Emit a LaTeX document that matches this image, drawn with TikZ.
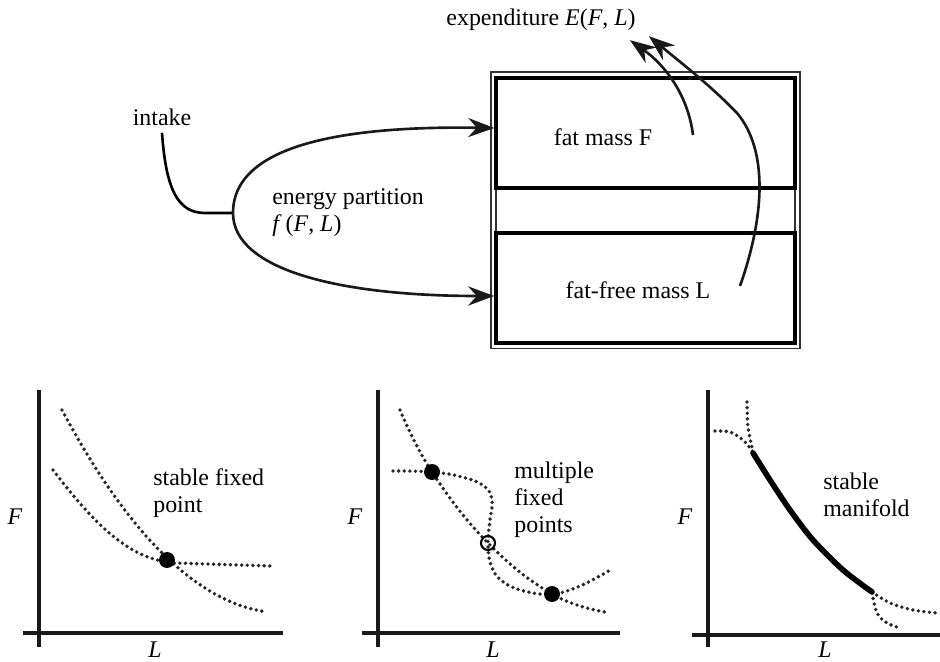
\documentclass[tikz,border=0pt]{standalone}
\usepackage{fontspec}
\setmainfont{Liberation Serif}
\usetikzlibrary{arrows.meta,positioning,calc}
\tikzset{
  massbox/.style={rectangle, draw=black, line width=2pt, minimum width=5.98cm, minimum height=2.2cm, inner sep=0pt},
  frame/.style={rectangle, draw=black!80, double=white, double distance=0.06cm, line width=1pt, minimum width=6.08cm, minimum height=5.44cm},
  flow/.style={-{Stealth[length=0.52cm,width=0.38cm,inset=0.17cm]}, line width=1.5pt, draw=black!90},
  txt/.style={inner sep=0pt, align=left},
  axis/.style={line width=2pt, draw=black!90},
  nullcl/.style={line width=2.2pt, dash pattern=on 0pt off 3.2pt, line cap=round, draw=black!85},
  manifold/.style={line width=3.2pt, line cap=round},
  fixpt/.style={circle, fill=black, inner sep=0pt, minimum size=0.32cm},
  saddle/.style={circle, draw=black, line width=1.2pt, inner sep=0pt, minimum size=0.28cm}
}
\begin{document}
\begin{tikzpicture}[x=0.02cm, y=-0.02cm, font=\fontsize{13.6}{15.5}\selectfont]
\useasboundingbox (0,0) rectangle (940,662);
% top: intake split into the two compartments
\node[frame] (store) at (645.4,210.2) {};
\node[massbox] (fat) at (645.5,133) {};
\node[massbox] (lean) at (645.5,288) {};
\node[txt] (fatlbl) at (603,137) {fat mass F};
\node[txt] (leanlbl) at (638,290) {fat-free mass L};
\node[txt] (intake) at (162,117) {intake};
\node[txt, anchor=west] (part) at (272,213) {energy partition\\\textit{f}\,(\textit{F}, \textit{L})};
\node[txt] (exp) at (541,20) {expenditure \textit{E}(\textit{F}, \textit{L})};
\coordinate (fork) at (233,213);
\coordinate (fatout) at (693,135);
\coordinate (leanout) at (740,286);
\draw[line width=1.5pt] ([yshift=-0.14cm]intake.south) .. controls (166,190) and (178,213) .. (205,213) -- (fork);
\draw[flow] (fork) .. controls (233,140) and (360,126) .. ([yshift=0.1cm]fat.west);
\draw[flow] (fork) .. controls (233,270) and (340,296) .. ([yshift=-0.16cm]lean.west);
\draw[flow] (fatout) .. controls (688,95) and (665,65) .. ($(exp.south east)+(-6,9)$);
\draw[flow] (leanout) .. controls (765,215) and (768,150) .. (737,113) .. controls (710,85) and (680,62) .. ($(exp.south east)+(13,5)$);
% bottom left: one stable fixed point
\draw[axis] (39,390) -- (39,647);
\draw[axis] (23,633) -- (283,633);
\node[txt] (F1) at (15,517) {\textit{F}};
\node[txt] (L1) at (155,650) {\textit{L}};
\draw[nullcl] (62,410) .. controls (110,500) and (180,600) .. (267,612);
\draw[nullcl] (53,470) .. controls (95,525) and (130,560) .. (175,563) -- (272,566);
\node[fixpt] (fp1) at (167,560) {};
\node[txt, anchor=west] (lbl1) at (153,493) {stable fixed\\point};
% bottom middle: two stable points and a saddle
\draw[axis] (378,390) -- (378,647);
\draw[axis] (362,633) -- (620,633);
\node[txt] (F2) at (355,517) {\textit{F}};
\node[txt] (L2) at (493,650) {\textit{L}};
\draw[nullcl] plot[smooth, tension=0.7] coordinates {(400,410) (432,472) (488,543) (552,594) (605,612)};
\draw[nullcl] plot[smooth, tension=0.7] coordinates {(393,471) (432,472) (462,477) (484,486) (492,500) (490,520) (488,543) (491,565) (502,581) (524,591) (552,594) (580,586) (612,569)};
\node[fixpt] (fp2) at (432,472) {};
\node[saddle] (sp2) at (488,543) {};
\node[fixpt] (fp3) at (552,594) {};
\node[txt, anchor=west] (lbl2) at (514,500) {multiple\\fixed\\points};
% bottom right: stable manifold
\draw[axis] (708,390) -- (708,647);
\draw[axis] (692,635) -- (940,635);
\node[txt] (F3) at (685,517) {\textit{F}};
\node[txt] (L3) at (825,650) {\textit{L}};
\draw[nullcl] plot[smooth] coordinates {(747,402) (748,427) (753,452)};
\draw[nullcl] plot[smooth] coordinates {(715,431) (730,432) (743,440) (753,452)};
\draw[nullcl] plot[smooth] coordinates {(872,592) (890,603) (913,610) (937,613)};
\draw[nullcl] plot[smooth] coordinates {(872,593) (877,613) (887,623) (900,628)};
\draw[manifold] plot[smooth] coordinates {(753,453) (770,480) (790,510) (813,540) (843,570) (872,592)};
\node[txt, anchor=west] (lbl3) at (823,495) {stable\\manifold};
\end{tikzpicture}
\end{document}
